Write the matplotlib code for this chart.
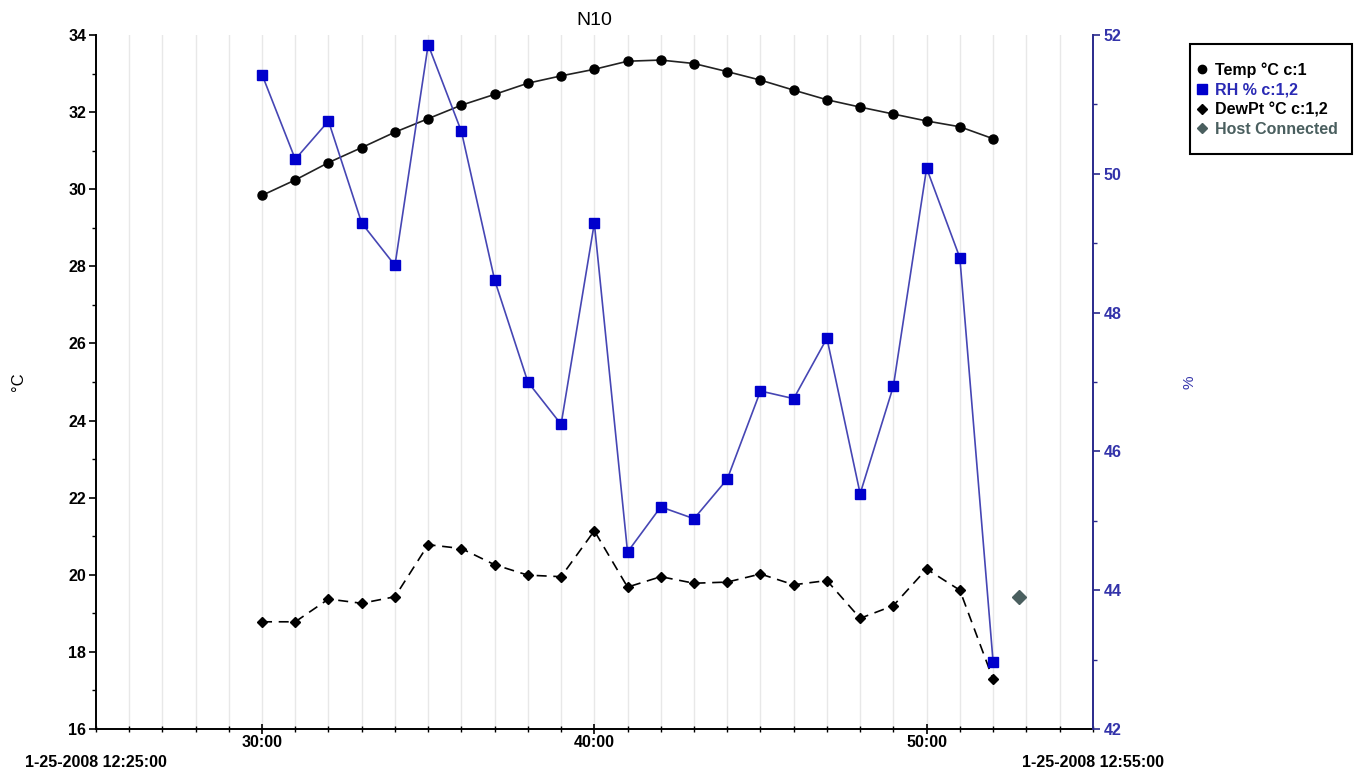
import numpy as np
import matplotlib
matplotlib.use("Agg")
import matplotlib.pyplot as plt
from matplotlib.ticker import MultipleLocator, FixedLocator, FixedFormatter
from matplotlib.lines import Line2D
from matplotlib.patches import Rectangle

plt.rcParams['font.family'] = ['Liberation Sans', 'DejaVu Sans']

# one sample per minute, 12:30 .. 12:52 (x in minutes past 12:00)
minutes = list(range(30, 53))
temp = [29.84, 30.24, 30.69, 31.08, 31.48, 31.83, 32.18, 32.46, 32.75, 32.94,
        33.11, 33.32, 33.35, 33.26, 33.05, 32.83, 32.57, 32.32, 32.13, 31.95,
        31.77, 31.62, 31.31]
rh = [51.43, 50.21, 50.76, 49.29, 48.68, 51.86, 50.61, 48.47, 47.00, 46.39,
      49.29, 44.55, 45.20, 45.03, 45.60, 46.87, 46.76, 47.63, 45.39, 46.94,
      50.08, 48.79, 42.97]
dewpt = [18.78, 18.78, 19.37, 19.26, 19.43, 20.78, 20.68, 20.26, 19.99, 19.95,
         21.14, 19.68, 19.95, 19.78, 19.81, 20.02, 19.74, 19.85, 18.87, 19.20,
         20.15, 19.60, 17.29]
host_x = [52.78]
host_y = [19.43]

x_min, x_max = 25, 55
x_ticks = [30, 40, 50]
x_ticklabels = ['30:00', '40:00', '50:00']
x_end_labels = ['1-25-2008 12:25:00', '1-25-2008 12:55:00']

blue = '#0000cc'
navy = '#2a2a8c'
host_col = '#4a5f5f'
fs = 11.5

fig = plt.figure(figsize=(13.6, 7.76), dpi=100)
ax = fig.add_axes([0.0705, 0.0606, 0.733, 0.8943])
ax2 = ax.twinx()

ax.set_xlim(x_min, x_max)
ax.set_ylim(16, 34)
ax2.set_ylim(42, 52)

# vertical minute grid
for m in range(x_min + 1, x_max):
    ax.axvline(m, color='#e8e8e8', lw=1.0, zorder=0)

ax.plot(minutes, temp, color='#222222', lw=1.2, marker='o', ms=6.5,
        mfc='black', mec='black', zorder=4)
ax.plot(minutes, dewpt, color='black', lw=1.2, ls=(0, (6, 4)), marker='D',
        ms=5, mfc='black', mec='black', zorder=4)
ax.plot(host_x, host_y, ls='none', marker='D', ms=7.5, color=host_col, zorder=4)
ax2.plot(minutes, rh, color='#4646b4', lw=1.2, marker='s', ms=7,
         mfc=blue, mec=blue, zorder=3)

# axes styling
for a in (ax, ax2):
    a.spines['top'].set_visible(False)
ax.spines['right'].set_visible(False)
ax2.spines['left'].set_visible(False)
ax2.spines['bottom'].set_visible(False)
ax2.spines['right'].set_color(navy)
ax2.spines['right'].set_linewidth(1.4)
ax.spines['left'].set_linewidth(1.4)
ax.spines['bottom'].set_linewidth(1.4)

ax.yaxis.set_major_locator(MultipleLocator(2))
ax.yaxis.set_minor_locator(MultipleLocator(1))
ax2.yaxis.set_major_locator(MultipleLocator(2))
ax2.yaxis.set_minor_locator(MultipleLocator(1))

ax.xaxis.set_major_locator(FixedLocator(x_ticks))
ax.xaxis.set_major_formatter(FixedFormatter(x_ticklabels))
ax.xaxis.set_minor_locator(MultipleLocator(1))

ax.tick_params(axis='y', which='major', direction='out', length=5, width=1.2,
               labelsize=fs, pad=2)
ax.tick_params(axis='y', which='minor', direction='out', length=3, width=1.0)
ax.tick_params(axis='x', which='major', direction='inout', length=7, width=1.2,
               labelsize=fs, pad=1)
ax.tick_params(axis='x', which='minor', direction='inout', length=5, width=1.0)
ax2.tick_params(axis='y', which='major', direction='out', length=5, width=1.2,
                color=navy, labelcolor='#3333aa', labelsize=fs, pad=3)
ax2.tick_params(axis='y', which='minor', direction='out', length=3,
                width=1.0, color=navy)
for lab in ax.get_xticklabels() + ax.get_yticklabels() + ax2.get_yticklabels():
    lab.set_fontweight('bold')

ax.set_title('N10', fontsize=14, pad=7)
ax.set_ylabel('°C', fontsize=12)
ax.yaxis.set_label_coords(-0.07, 0.5)
ax2.set_ylabel('%', fontsize=11, color='#3333aa')
ax2.yaxis.set_label_coords(1.09, 0.5)

# date-time stamps at the two ends of the time axis
for xv, txt in zip([x_min, x_max], x_end_labels):
    ax.annotate(txt, xy=(xv, 0), xycoords=('data', 'axes fraction'),
                xytext=(0, -24), textcoords='offset points',
                ha='center', va='center', fontsize=fs, fontweight='bold')

# legend: entries without frame, box drawn separately
handles = [
    Line2D([], [], ls='none', marker='o', ms=6, color='black'),
    Line2D([], [], ls='none', marker='s', ms=6.5, color=blue),
    Line2D([], [], ls='none', marker='D', ms=5, color='black'),
    Line2D([], [], ls='none', marker='D', ms=5, color=host_col),
]
labels = ['Temp °C c:1', 'RH % c:1,2', 'DewPt °C c:1,2', 'Host Connected']
fig.legend(handles, labels, loc='upper left',
           bbox_to_anchor=(0.8805, 0.9200), frameon=False,
           handlelength=0.6, handletextpad=0.5, labelspacing=0.3,
           borderpad=0, borderaxespad=0, prop=dict(size=11.5, weight='bold'),
           labelcolor=['black', '#2a2ab4', 'black', host_col])
fig.patches.append(Rectangle((0.875, 0.8015), 0.119, 0.142,
                             transform=fig.transFigure, fill=False,
                             edgecolor='black', linewidth=1.5))

fig.savefig('out.png', dpi=100)
